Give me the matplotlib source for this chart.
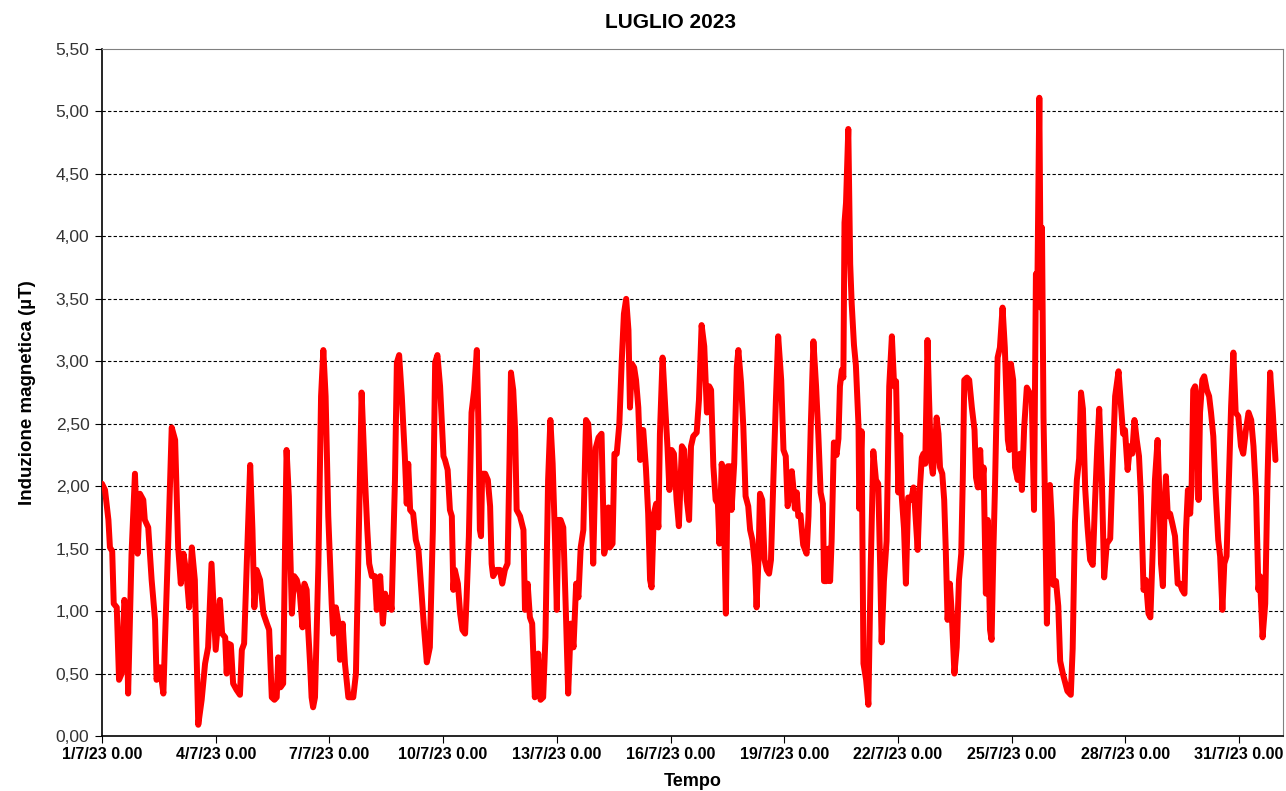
import matplotlib
matplotlib.use("Agg")
import matplotlib.pyplot as plt
import matplotlib.ticker as mticker
import pandas as pd

plt.rcParams['font.family'] = ['Liberation Sans', 'DejaVu Sans']

# giorni trascorsi dal 1/7/23 0.00 e valori (uT)
giorni = [
    0.00, 0.08, 0.17, 0.21, 0.27, 0.31, 0.39, 0.45, 0.52, 0.59, 0.65, 0.69, 0.78, 0.87, 0.94,
    1.00, 1.09, 1.13, 1.22, 1.31, 1.40, 1.44, 1.53, 1.62, 1.66, 1.75, 1.84, 1.93, 2.01, 2.08,
    2.15, 2.23, 2.30, 2.37, 2.45, 2.54, 2.63, 2.72, 2.80, 2.89,
    3.00, 3.11, 3.17, 3.25, 3.29, 3.33, 3.40, 3.46, 3.55, 3.64, 3.69, 3.75, 3.82, 3.91, 3.97,
    4.02, 4.08, 4.17, 4.26, 4.35, 4.41, 4.48, 4.55, 4.61, 4.65, 4.71, 4.78, 4.83, 4.87, 4.93,
    5.01, 5.07, 5.14, 5.22, 5.29, 5.34, 5.40, 5.44, 5.49, 5.53, 5.57, 5.62, 5.71, 5.78, 5.84,
    5.90, 5.97,
    6.02, 6.06, 6.10, 6.17, 6.24, 6.28, 6.35, 6.41, 6.50, 6.63, 6.70, 6.76, 6.85, 6.94, 7.00,
    7.05, 7.12, 7.20, 7.25, 7.34, 7.41, 7.47, 7.53, 7.60, 7.64, 7.73, 7.78, 7.84, 7.91, 7.99,
    8.04, 8.08, 8.13, 8.21, 8.28, 8.35, 8.44, 8.50, 8.57, 8.65, 8.73, 8.79, 8.85, 8.92, 9.01,
    9.05, 9.12, 9.18, 9.23, 9.27, 9.31, 9.39, 9.45, 9.51, 9.58, 9.62, 9.68, 9.75, 9.82, 9.89,
    9.93, 9.97, 10.00, 10.03, 10.11, 10.18, 10.24, 10.28, 10.32, 10.41, 10.50, 10.56, 10.63, 10.70, 10.75,
    10.79, 10.85, 10.90, 10.94, 11.03, 11.12, 11.16, 11.23, 11.29, 11.35, 11.42, 11.51, 11.57, 11.64, 11.70,
    11.77, 11.83, 11.89, 11.95, 12.00, 12.04, 12.10,
    12.17, 12.24, 12.30, 12.37, 12.44, 12.51, 12.57, 12.63, 12.70, 12.77, 12.83, 12.89, 12.96, 13.03, 13.10,
    13.18, 13.25, 13.30, 13.36, 13.40, 13.47, 13.52, 13.58, 13.65, 13.71, 13.77, 13.83, 13.89, 13.93, 13.98,
    14.04, 14.09, 14.15, 14.20, 14.24, 14.28, 14.35, 14.41, 14.46, 14.50, 14.56, 14.62, 14.68, 14.72, 14.79,
    14.85, 14.92, 14.97, 15.03, 15.09,
    15.16, 15.22, 15.30, 15.36, 15.43, 15.49, 15.54, 15.60, 15.69, 15.75, 15.82, 15.89, 15.96, 16.02, 16.07,
    16.13, 16.19, 16.25, 16.29, 16.35, 16.39, 16.46, 16.51, 16.57, 16.61, 16.68, 16.75, 16.79, 16.86, 16.92,
    16.98, 17.05, 17.10, 17.16, 17.23, 17.27, 17.32, 17.36, 17.42, 17.48, 17.54, 17.60, 17.65, 17.71, 17.78,
    17.84, 17.92, 17.98, 18.04, 18.09,
    18.15, 18.20, 18.24, 18.28, 18.33, 18.37, 18.43, 18.50, 18.59, 18.64, 18.70, 18.77, 18.84, 18.90, 18.96,
    19.02, 19.05, 19.12, 19.16, 19.21, 19.25, 19.31, 19.38, 19.43, 19.47, 19.52, 19.56, 19.59, 19.63, 19.69,
    19.74, 19.78, 19.84, 19.89, 19.96, 19.98, 20.04, 20.09, 20.16, 20.22, 20.28, 20.35, 20.42, 20.48, 20.53,
    20.57, 20.63, 20.70, 20.77, 20.84, 20.90, 20.95, 21.01, 21.06, 21.10, 21.16,
    21.21, 21.27, 21.35, 21.41, 21.45, 21.52, 21.58, 21.63, 21.67, 21.72, 21.78, 21.82, 21.87, 21.92, 21.98,
    22.02, 22.07, 22.11, 22.17, 22.22, 22.26, 22.31, 22.37, 22.42, 22.49, 22.55, 22.61, 22.67, 22.71, 22.75,
    22.82, 22.88, 22.95, 23.02, 23.06, 23.11, 23.17, 23.21, 23.26, 23.32, 23.37, 23.43, 23.47, 23.52, 23.56,
    23.63, 23.69, 23.76, 23.82, 23.90, 23.94, 23.98, 24.04, 24.09, 24.16, 24.22, 24.27, 24.33, 24.40,
    24.47, 24.53, 24.59, 24.64, 24.68, 24.73, 24.77, 24.80, 24.84, 24.88, 24.93, 24.97, 25.01, 25.06, 25.10,
    25.17, 25.23, 25.28, 25.35, 25.41, 25.47, 25.56, 25.61, 25.67, 25.72, 25.78, 25.83, 25.88, 25.94, 26.00,
    26.07, 26.14, 26.20, 26.26, 26.31, 26.38, 26.44, 26.51, 26.60, 26.67, 26.73, 26.82, 26.89, 26.94,
    26.99, 27.06, 27.12, 27.18, 27.24, 27.30, 27.36, 27.41, 27.48, 27.54, 27.61, 27.66, 27.71, 27.78, 27.85,
    27.90, 27.94, 27.99, 28.03, 28.07, 28.12, 28.18, 28.24, 28.31, 28.38, 28.44, 28.50, 28.56, 28.60, 28.65,
    28.71, 28.75, 28.79, 28.84, 28.88, 28.93, 28.97, 29.03, 29.08, 29.15, 29.21, 29.26, 29.32, 29.38, 29.45,
    29.50, 29.56, 29.61, 29.67, 29.73, 29.79, 29.85, 29.91, 29.98, 30.05, 30.11, 30.18, 30.25, 30.32, 30.38,
    30.45, 30.51, 30.55, 30.62, 30.69, 30.75, 30.82, 30.89, 30.96,
]

valori = [
    2.02, 1.97, 1.73, 1.51, 1.48, 1.06, 1.03, 0.45, 0.50, 1.09, 0.98, 0.34, 1.46, 2.10, 1.46,
    1.94, 1.89, 1.73, 1.67, 1.25, 0.93, 0.45, 0.55, 0.34, 0.74, 1.57, 2.47, 2.37, 1.51, 1.22,
    1.46, 1.30, 1.03, 1.51, 1.25, 0.09, 0.29, 0.58, 0.71, 1.38,
    0.69, 1.09, 0.82, 0.79, 0.50, 0.74, 0.73, 0.42, 0.37, 0.33, 0.69, 0.74, 1.38, 2.17, 1.65,
    1.03, 1.33, 1.25, 0.98, 0.90, 0.85, 0.31, 0.29, 0.31, 0.63, 0.39, 0.42, 1.52, 2.29, 1.92,
    0.98, 1.28, 1.25, 1.14, 0.87, 1.22, 1.17, 0.85, 0.58, 0.31, 0.23, 0.31, 1.38, 2.72, 3.09,
    2.72, 1.76,
    1.38, 1.06, 0.82, 1.03, 0.90, 0.61, 0.90, 0.58, 0.31, 0.31, 0.50, 1.38, 2.75, 2.05, 1.65,
    1.38, 1.28, 1.28, 1.01, 1.28, 0.90, 1.14, 1.03, 1.11, 1.01, 2.05, 2.99, 3.05, 2.72, 2.24,
    1.86, 2.18, 1.81, 1.78, 1.57, 1.49, 1.11, 0.85, 0.59, 0.71, 1.65, 2.99, 3.05, 2.80, 2.24,
    2.21, 2.13, 1.81, 1.76, 1.17, 1.33, 1.22, 0.98, 0.85, 0.82, 1.11, 1.60, 2.59, 2.77, 3.09,
    2.51, 1.65, 1.60, 2.10, 2.10, 2.05, 1.84, 1.38, 1.28, 1.33, 1.33, 1.22, 1.33, 1.38, 2.18,
    2.91, 2.77, 2.45, 1.81, 1.76, 1.65, 1.01, 1.22, 0.95, 0.90, 0.31, 0.66, 0.29, 0.31, 0.79,
    2.05, 2.53, 2.18, 1.60, 1.01, 1.73, 1.73,
    1.67, 0.98, 0.34, 0.90, 0.71, 1.22, 1.11, 1.51, 1.65, 2.53, 2.50, 2.18, 1.38, 2.31, 2.39,
    2.42, 1.46, 1.54, 1.83, 1.51, 1.54, 2.26, 2.26, 2.50, 2.98, 3.38, 3.50, 3.25, 2.63, 2.98,
    2.95, 2.85, 2.63, 2.21, 2.45, 2.45, 2.15, 1.78, 1.25, 1.19, 1.78, 1.86, 1.67, 2.42, 3.03,
    2.69, 2.31, 1.97, 2.29, 2.26,
    1.89, 1.68, 2.32, 2.29, 1.89, 1.73, 2.32, 2.40, 2.43, 2.69, 3.29, 3.12, 2.59, 2.80, 2.77,
    2.16, 1.89, 1.86, 1.54, 2.18, 2.05, 0.98, 2.16, 2.16, 1.81, 2.18, 2.96, 3.09, 2.83, 2.48,
    1.92, 1.84, 1.65, 1.57, 1.36, 1.03, 1.41, 1.94, 1.89, 1.41, 1.33, 1.30, 1.41, 2.02, 2.69,
    3.20, 2.85, 2.29, 2.24, 1.84,
    1.95, 2.12, 1.99, 1.82, 1.95, 1.76, 1.77, 1.53, 1.46, 1.76, 2.48, 3.16, 2.80, 2.41, 1.95,
    1.86, 1.24, 1.24, 1.50, 1.24, 1.56, 2.35, 2.25, 2.38, 2.80, 2.93, 2.87, 4.11, 4.27, 4.86,
    3.78, 3.46, 3.13, 2.97, 2.48, 1.82, 2.44, 0.58, 0.45, 0.25, 1.33, 2.28, 2.05, 2.02, 1.37,
    0.75, 1.24, 1.56, 2.80, 3.20, 2.80, 2.84, 1.95, 2.41, 1.92, 1.66,
    1.22, 1.91, 1.89, 1.99, 1.83, 1.49, 1.99, 2.23, 2.26, 2.18, 3.17, 2.71, 2.21, 2.10, 2.31,
    2.55, 2.42, 2.15, 2.10, 1.89, 1.51, 0.93, 1.22, 0.98, 0.50, 0.71, 1.25, 1.46, 2.05, 2.85,
    2.87, 2.85, 2.63, 2.45, 2.07, 1.99, 2.29, 1.99, 2.15, 1.14, 1.73, 0.85, 0.77, 1.51, 1.99,
    3.03, 3.11, 3.43, 3.11, 2.37, 2.29, 2.98, 2.85, 2.15, 2.05, 2.26, 1.97, 2.47, 2.79,
    2.75, 2.72, 1.81, 3.70, 3.63, 5.11, 3.43, 4.07, 2.55, 1.88, 0.90, 1.54, 2.01, 1.71, 1.21,
    1.24, 1.04, 0.60, 0.50, 0.43, 0.36, 0.33, 0.70, 1.71, 2.05, 2.22, 2.75, 2.62, 1.98, 1.68,
    1.41, 1.37, 1.88, 2.32, 2.62, 2.05, 1.27, 1.54, 1.58, 2.22, 2.72, 2.92, 2.62, 2.42,
    2.45, 2.13, 2.32, 2.26, 2.53, 2.37, 2.24, 1.92, 1.17, 1.25, 0.98, 0.95, 1.38, 2.05, 2.37,
    1.92, 1.38, 1.20, 1.76, 2.08, 1.76, 1.78, 1.70, 1.60, 1.22, 1.22, 1.17, 1.14, 1.65, 1.97,
    1.78, 2.02, 2.77, 2.80, 2.67, 1.89, 2.59, 2.85, 2.88, 2.77, 2.72, 2.59, 2.40, 1.97, 1.57,
    1.44, 1.01, 1.38, 1.44, 2.05, 2.64, 3.07, 2.59, 2.56, 2.32, 2.26, 2.45, 2.59, 2.53, 2.32,
    1.92, 1.17, 1.28, 0.79, 1.06, 2.05, 2.91, 2.59, 2.21,
]

y_ticks = [0.0, 0.5, 1.0, 1.5, 2.0, 2.5, 3.0, 3.5, 4.0, 4.5, 5.0, 5.5]
x_tick_days = [0, 3, 6, 9, 12, 15, 18, 21, 24, 27, 30]
x_tick_labels = ["1/7/23 0.00", "4/7/23 0.00", "7/7/23 0.00", "10/7/23 0.00",
                 "13/7/23 0.00", "16/7/23 0.00", "19/7/23 0.00", "22/7/23 0.00",
                 "25/7/23 0.00", "28/7/23 0.00", "31/7/23 0.00"]

inizio = pd.Timestamp("2023-07-01")
tempi = inizio + pd.to_timedelta(giorni, unit="D")

fig = plt.figure(figsize=(12.86, 7.91), dpi=100)
ax = fig.add_axes([0.0793, 0.0695, 0.9184, 0.8685])

ax.plot(tempi, valori, color="#ff0000", linewidth=4.3,
        solid_joinstyle="round", solid_capstyle="round", zorder=3)

ax.set_ylim(0, 5.5)
ax.set_xlim(inizio, inizio + pd.Timedelta(days=31.16))
ax.set_yticks(y_ticks)
ax.yaxis.set_major_formatter(
    mticker.FuncFormatter(lambda v, p: "{:.2f}".format(v).replace(".", ",")))

ax.set_xticks(inizio + pd.to_timedelta(x_tick_days, unit="D"))
ax.set_xticklabels(x_tick_labels, fontweight="bold")

for y in y_ticks[1:-1]:
    ax.axhline(y, color="black", linestyle=(0, (3, 2)), linewidth=0.8, zorder=1)

ax.spines["left"].set_color("black")
ax.spines["bottom"].set_color("black")
ax.spines["left"].set_linewidth(1.2)
ax.spines["bottom"].set_linewidth(1.2)
ax.spines["top"].set_color("#808080")
ax.spines["right"].set_color("#808080")

ax.tick_params(axis="y", direction="out", length=5, labelsize=12.5, pad=4,
               labelcolor="#333333")
ax.tick_params(axis="x", direction="out", length=5, labelsize=11.5, pad=3)

ax.set_xlabel("Tempo", fontsize=13, fontweight="bold", labelpad=8)
ax.set_ylabel("Induzione magnetica (µT)", fontsize=13.5, fontweight="bold", labelpad=14)
fig.text(0.521, 0.972, "LUGLIO 2023", ha="center", va="center",
         fontsize=15, fontweight="bold")

fig.savefig("out.png", dpi=100, facecolor="white")
